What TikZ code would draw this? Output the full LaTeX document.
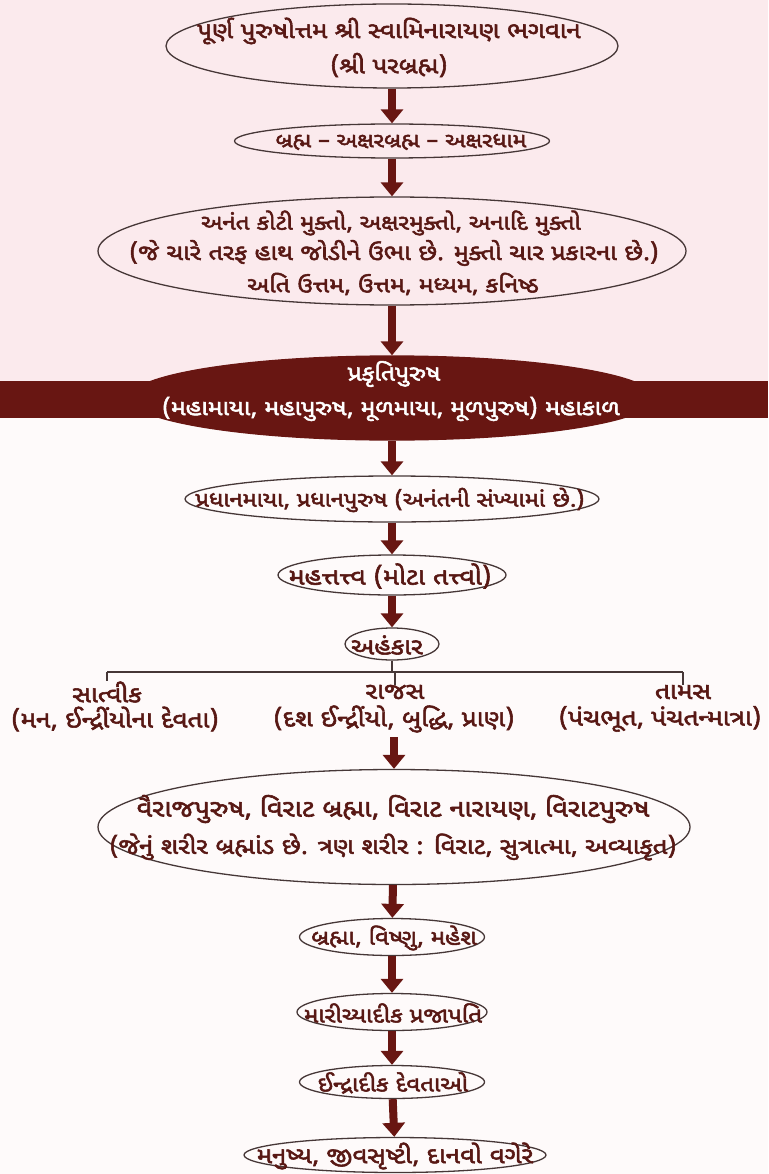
\documentclass[tikz,border=0pt]{standalone}
\usepackage{fontspec}
\newfontfamily\guj[Script=Gujarati,FakeBold=2.4,FakeStretch=1.13]{Noto Sans Gujarati UI}
\usetikzlibrary{shapes.geometric,arrows.meta}
\definecolor{pinkbg}{RGB}{251,234,237}
\definecolor{lowbg}{RGB}{254,250,250}
\definecolor{maroon}{RGB}{104,22,18}
\definecolor{txtc}{RGB}{88,24,20}
\definecolor{edgec}{RGB}{70,55,55}
\begin{document}
\begin{tikzpicture}[x=1pt,y=-1pt,
 ellbox/.style={draw=edgec, line width=1.3pt, ellipse, inner sep=0pt},
 txt/.style={font=\guj\fontsize{21}{30}\selectfont, text=txtc, align=center, inner sep=0pt},
 fs/.style={font=\guj\fontsize{#1}{30}\selectfont},
 wtxt/.style={txt, text=white},
 arr/.style={draw=maroon, line width=8pt, -{Triangle[width=22pt,length=14pt]}},
 brk/.style={draw=edgec, line width=1.4pt}]
\fill[lowbg] (0,0) rectangle (768,1174);
\fill[pinkbg] (0,0) rectangle (768,381);
\fill[maroon] (0,381) rectangle (768,418);
\useasboundingbox (0,0) rectangle (768,1174);

% ellipses
\node[ellbox, minimum width=452pt, minimum height=84pt] (e1) at (392,46) {};
\node[ellbox, minimum width=315pt, minimum height=34pt] (e2) at (392,141) {};
\node[ellbox, minimum width=588pt, minimum height=108pt] (e3) at (392,251) {};
\node[ellbox, draw=maroon, fill=maroon, minimum width=525pt, minimum height=84pt] (e4) at (392,398) {};
\node[ellbox, minimum width=414pt, minimum height=46pt] (e5) at (392,499) {};
\node[ellbox, minimum width=228pt, minimum height=40pt] (e6) at (392,575) {};
\node[ellbox, minimum width=94pt, minimum height=32pt] (e7) at (392,644) {};
\node[ellbox, minimum width=592pt, minimum height=115pt] (e8) at (394,827) {};
\node[ellbox, minimum width=185pt, minimum height=37pt] (e9) at (392,937) {};
\node[ellbox, minimum width=190pt, minimum height=37pt] (e10) at (392,1012) {};
\node[ellbox, minimum width=185pt, minimum height=33pt] (e11) at (392,1082) {};
\node[ellbox, minimum width=302pt, minimum height=35pt] (e12) at (395,1155) {};

% texts
\node[txt, fs=22.8] (t1a) at (389,31) {પૂર્ણ પુરુષોત્તમ શ્રી સ્વામિનારાયણ ભગવાન};
\node[txt, fs=22.8] (t1b) at (389,65) {(શ્રી પરબ્રહ્મ)};
\node[txt, fs=20.5] (t2) at (401,142) {બ્રહ્મ – અક્ષરબ્રહ્મ – અક્ષરધામ};
\node[txt, fs=21.4] (t3a) at (391,223) {અનંત કોટી મુક્તો, અક્ષરમુક્તો, અનાદિ મુક્તો};
\node[txt, fs=22.3] (t3b) at (394,253) {(જે ચારે તરફ હાથ જોડીને ઉભા છે. મુક્તો ચાર પ્રકારના છે.)};
\node[txt, fs=21.9] (t3c) at (393,284) {અતિ ઉત્તમ, ઉત્તમ, મધ્યમ, કનિષ્ઠ};
\node[wtxt, fs=21.9] (t4a) at (394,374) {પ્રકૃતિપુરુષ};
\node[wtxt, fs=21.9] (t4b) at (391,409) {(મહામાયા, મહાપુરુષ, મૂળમાયા, મૂળપુરુષ) મહાકાળ};
\node[txt, fs=21] (t5) at (390,500) {પ્રધાનમાયા, પ્રધાનપુરુષ (અનંતની સંખ્યામાં છે.)};
\node[txt, fs=23.6] (t6) at (390,576) {મહત્તત્ત્વ (મોટા તત્ત્વો)};
\node[txt, fs=23.2] (t7) at (387,645) {અહંકાર};
\node[txt, fs=23.2] (s1) at (107,692) {સાત્વીક};
\node[txt, fs=23.2] (s2) at (115,719) {(મન, ઈન્દ્રીંયોના દેવતા)};
\node[txt, fs=23.2] (r1) at (395,692) {રાજસ};
\node[txt, fs=23.2] (r2) at (394,719) {(દશ ઈન્દ્રીંયો, બુદ્ધિ, પ્રાણ)};
\node[txt, fs=23.2] (m1) at (683,692) {તામસ};
\node[txt, fs=23.2] (m2) at (660,719) {(પંચભૂત, પંચતન્માત્રા)};
\node[txt, fs=24.1] (t8a) at (393,809) {વૈરાજપુરુષ, વિરાટ બ્રહ્મા, વિરાટ નારાયણ, વિરાટપુરુષ};
\node[txt, fs=22.7] (t8b) at (393,847) {(જેનું શરીર બ્રહ્માંડ છે. ત્રણ શરીર : વિરાટ, સુત્રાત્મા, અવ્યાકૃત)};
\node[txt, fs=21.4] (t9) at (394,938) {બ્રહ્મા, વિષ્ણુ, મહેશ};
\node[txt, fs=21.4] (t10) at (393,1013) {મારીચ્યાદીક પ્રજાપતિ};
\node[txt, fs=21.4] (t11) at (393,1083) {ઈન્દ્રાદીક દેવતાઓ};
\node[txt, fs=23] (t12) at (395,1156) {મનુષ્ય, જીવસૃષ્ટી, દાનવો વગેરે};

% arrows
\draw[arr] (e1) -- (e2);
\draw[arr] (e2) -- (e3);
\draw[arr] (e3) -- (e4);
\draw[arr] (e4) -- (e5);
\draw[arr] (e5) -- (e6);
\draw[arr] (e6) -- (e7);
\coordinate (ra) at (394,737);
\draw[arr] (ra) -- (e8.north);
\draw[arr] (e8) -- (e9);
\draw[arr] (e9) -- (e10);
\draw[arr] (e10) -- (e11);
\draw[arr] (e11) -- (e12);

% bracket
\coordinate (bl) at (107,672);
\coordinate (bm) at (395,672);
\coordinate (br) at (683,672);
\draw[brk] (bl) -- (br);
\draw[brk] (e7.south) -- (e7.south |- bm);
\draw[brk] (bl) -- (s1.north);
\draw[brk] (bm) -- (r1.north);
\draw[brk] (br) -- (m1.north);
\end{tikzpicture}
\end{document}
